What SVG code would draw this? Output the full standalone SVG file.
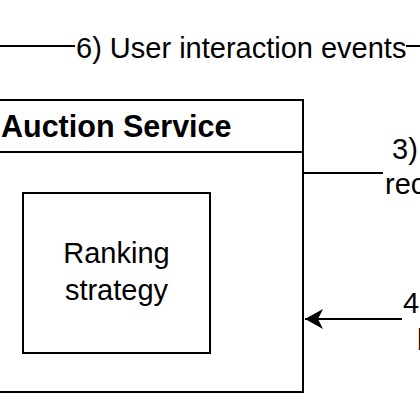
<svg xmlns="http://www.w3.org/2000/svg" width="420" height="420" viewBox="0 0 420 420">
  <style>
    .box { fill: #ffffff; stroke: #000000; stroke-width: 2; }
    .edge { fill: none; stroke: #000000; stroke-width: 2; }
    .t { font-family: "Liberation Sans", Arial, Helvetica, sans-serif; font-size: 29px; fill: #000000; }
    .b { font-weight: bold; font-size: 30.5px; }
  </style>
  <defs>
    <marker id="arrow" viewBox="0 -10 18 20" refX="18" refY="0" markerWidth="18" markerHeight="20" markerUnits="userSpaceOnUse" orient="auto">
      <path d="M18,0 L0,-10 L5,0 L0,10 Z" fill="#000000"/>
    </marker>
  </defs>
  <rect width="420" height="420" fill="#ffffff"/>

  <g id="auction-service">
    <rect class="box" x="-100" y="100" width="403" height="292"/>
    <line class="edge" x1="-100" y1="152" x2="303" y2="152"/>
    <text class="t b" x="1" y="137">Auction Service</text>
  </g>

  <g id="ranking-strategy">
    <rect class="box" x="23" y="193" width="187" height="160"/>
    <text class="t" x="116.5" y="263" text-anchor="middle">Ranking</text>
    <text class="t" x="116.5" y="300" text-anchor="middle">strategy</text>
  </g>

  <g id="connectors">
    <line class="edge" x1="0" y1="46" x2="75" y2="46"/>
    <line class="edge" x1="406" y1="46" x2="420" y2="46"/>
    <text class="t" x="76" y="58">6) User interaction events</text>

    <line class="edge" x1="303" y1="173" x2="383" y2="173"/>
    <text class="t" x="392" y="159">3)</text>
    <text class="t" x="385" y="194">rec</text>

    <line class="edge" x1="402" y1="319" x2="305" y2="319" marker-end="url(#arrow)"/>
    <text class="t" x="403" y="313">4</text>
    <text class="t" x="417" y="350">b</text>
  </g>
</svg>
